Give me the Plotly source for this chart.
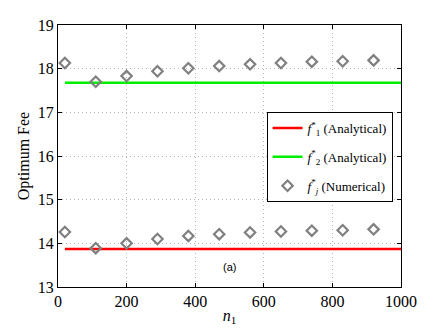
import plotly.graph_objects as go

# data
n1 = [20, 110, 200, 290, 380, 470, 560, 650, 740, 830, 920]
f2_num = [18.13, 17.70, 17.83, 17.94, 18.01, 18.06, 18.10, 18.13, 18.16, 18.17, 18.19]
f1_num = [14.26, 13.89, 14.00, 14.10, 14.17, 14.21, 14.25, 14.27, 14.29, 14.30, 14.32]
f1_analytical = 13.87
f2_analytical = 17.68
line_x = [20, 1000]

serif = 'Liberation Serif, Times New Roman, serif'

fig = go.Figure()

fig.add_trace(go.Scatter(
    x=line_x, y=[f1_analytical] * 2, mode='lines',
    line=dict(color='#ff0000', width=2.5), legendgroup='a',
    name='<i>f</i><sup>*</sup><sub>1</sub> (Analytical)'
))
fig.add_trace(go.Scatter(
    x=line_x, y=[f2_analytical] * 2, mode='lines',
    line=dict(color='#00ee00', width=2.5), legendgroup='b',
    name='<i>f</i><sup>*</sup><sub>2</sub> (Analytical)'
))
fig.add_trace(go.Scatter(
    x=n1 + n1, y=f1_num + f2_num, mode='markers', legendgroup='c',
    marker=dict(symbol='diamond-open', size=8, color='#808080', line=dict(width=2.2, color='#808080')),
    name='<i>f</i><sup>*</sup><sub><i>j</i></sub> (Numerical)'
))

fig.add_annotation(x=500, y=13.46, text='(a)', showarrow=False,
                   font=dict(family='Liberation Sans, Arial, sans-serif', size=11, color='black'))

axis_common = dict(
    showline=True, linecolor='black', linewidth=1, mirror='ticks',
    ticks='inside', ticklen=4, tickcolor='black',
    showgrid=True, gridcolor='#b4b4b4', griddash='1px,3px', gridwidth=1,
    zeroline=False,
    tickfont=dict(family=serif, size=16, color='black'),
)

# the page body adds an 8px offset, so the figure is drawn 8px smaller
fig.update_layout(
    width=435, height=325,
    margin=dict(l=50, r=42, t=17, b=46),
    plot_bgcolor='white', paper_bgcolor='white',
    font=dict(family=serif, color='black'),
    xaxis=dict(range=[0, 1000], dtick=200, automargin=False,
               title=dict(text='<i>n</i><sub>1</sub>', font=dict(family=serif, size=16), standoff=0),
               **axis_common),
    yaxis=dict(range=[13, 19], dtick=1, automargin=False,
               title=dict(text='Optimum Fee', font=dict(family=serif, size=16), standoff=4),
               **axis_common),
    showlegend=True,
    legend=dict(x=0.608, y=0.668, xanchor='left', yanchor='top',
                bgcolor='white', bordercolor='black', borderwidth=1,
                font=dict(family=serif, size=13, color='black'),
                tracegroupgap=9, itemwidth=30),
)

fig.write_html("out.html")
